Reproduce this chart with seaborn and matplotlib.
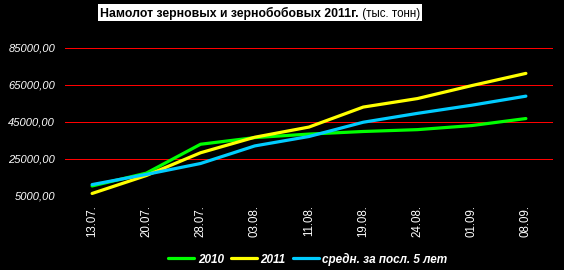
import matplotlib
matplotlib.use("Agg")
import matplotlib.pyplot as plt
import matplotlib.patches as mpatches
import seaborn as sns
import pandas as pd

dates = ["13.07.", "20.07.", "28.07.", "03.08.", "11.08.", "19.08.", "24.08.", "01.09.", "08.09."]
y2010 = [10150, 17100, 32700, 36300, 38200, 39600, 40600, 42800, 46600]
y2011 = [6100, 15800, 28100, 36500, 42000, 52800, 57400, 64400, 71000]
avg5 = [10900, 16400, 22300, 31800, 36900, 44600, 49400, 53800, 58700]
series_names = ["2010", "2011", "средн. за посл. 5 лет"]
colors = ["#00FF00", "#FFFF00", "#00CCFF"]
yticks = [5000, 25000, 45000, 65000, 85000]
title_bold = "Намолот зерновых и зернобобовых 2011г."
title_rest = " (тыс. тонн)"

df = pd.concat([
    pd.DataFrame({"date": dates, "value": vals, "series": name})
    for name, vals in zip(series_names, [y2010, y2011, avg5])
], ignore_index=True)

sns.set_theme(style="dark")
plt.rcParams["font.family"] = ["Liberation Sans", "DejaVu Sans"]

W, H = 564, 270
fig = plt.figure(figsize=(W / 100, H / 100), dpi=100, facecolor="black")
ymin, ymax = 5000, 90000
px_per_unit = 37.0 / 20000.0
left_px, right_px = 65, 553
bottom_disp = 74.5
height_px = (ymax - ymin) * px_per_unit
ax = fig.add_axes([left_px / W, bottom_disp / H, (right_px - left_px) / W, height_px / H])
ax.set_facecolor("black")

sns.lineplot(data=df, x="date", y="value", hue="series", palette=dict(zip(series_names, colors)),
             sort=False, linewidth=2.3, ax=ax, legend=True)

xlo, xhi = -0.5, len(dates) - 0.5
ax.set_xlim(xlo, xhi)
ax.set_ylim(ymin, ymax)
ax.set_yticks(yticks)
ax.set_yticklabels([f"{v:.2f}".replace(".", ",") for v in yticks],
                   fontsize=8, color="white", style="italic")
ax.set_xticks(range(len(dates)))
ax.set_xticklabels(dates, rotation=90, fontsize=8.3, color="white")
ax.tick_params(axis="y", length=0, pad=7)
ax.tick_params(axis="x", length=0, pad=7)
ax.set_xlabel("")
ax.set_ylabel("")
for s in ax.spines.values():
    s.set_visible(False)
ax.grid(False)
# horizontal red gridlines (no line at the axis minimum)
ax.hlines(yticks[1:], xlo, xhi, colors="#FF0000", linewidth=0.72, antialiased=False,
          zorder=0.5)

leg = ax.legend(loc="center", bbox_to_anchor=(308 / W, 1 - 259 / H), bbox_transform=fig.transFigure,
                ncol=3, frameon=False, handlelength=2.2, handletextpad=0.3, columnspacing=0.6,
                prop={"family": "Liberation Sans", "weight": "bold", "style": "italic", "size": 8.5})
for t in leg.get_texts():
    t.set_color("white")
for l in leg.get_lines():
    l.set_linewidth(2.3)

# title
t1 = fig.text(100 / W, 1 - 17 / H, title_bold, fontsize=8.8, fontweight="bold",
              color="black", ha="left", va="baseline", zorder=6)
fig.canvas.draw()
bb = t1.get_window_extent()
t2 = fig.text(bb.x1 / W, 1 - 17 / H, title_rest, fontsize=8.3,
              color="black", ha="left", va="baseline", zorder=6)
fig.canvas.draw()
bb2 = t2.get_window_extent()
x0 = bb.x0 - 2
x1 = bb2.x1 + 2
fig.patches.append(mpatches.Rectangle((x0 / W, 1 - 21 / H), (x1 - x0) / W, 17 / H,
                                      transform=fig.transFigure, facecolor="white",
                                      edgecolor="none", zorder=5))

fig.savefig("out.png", dpi=100, facecolor="black")
